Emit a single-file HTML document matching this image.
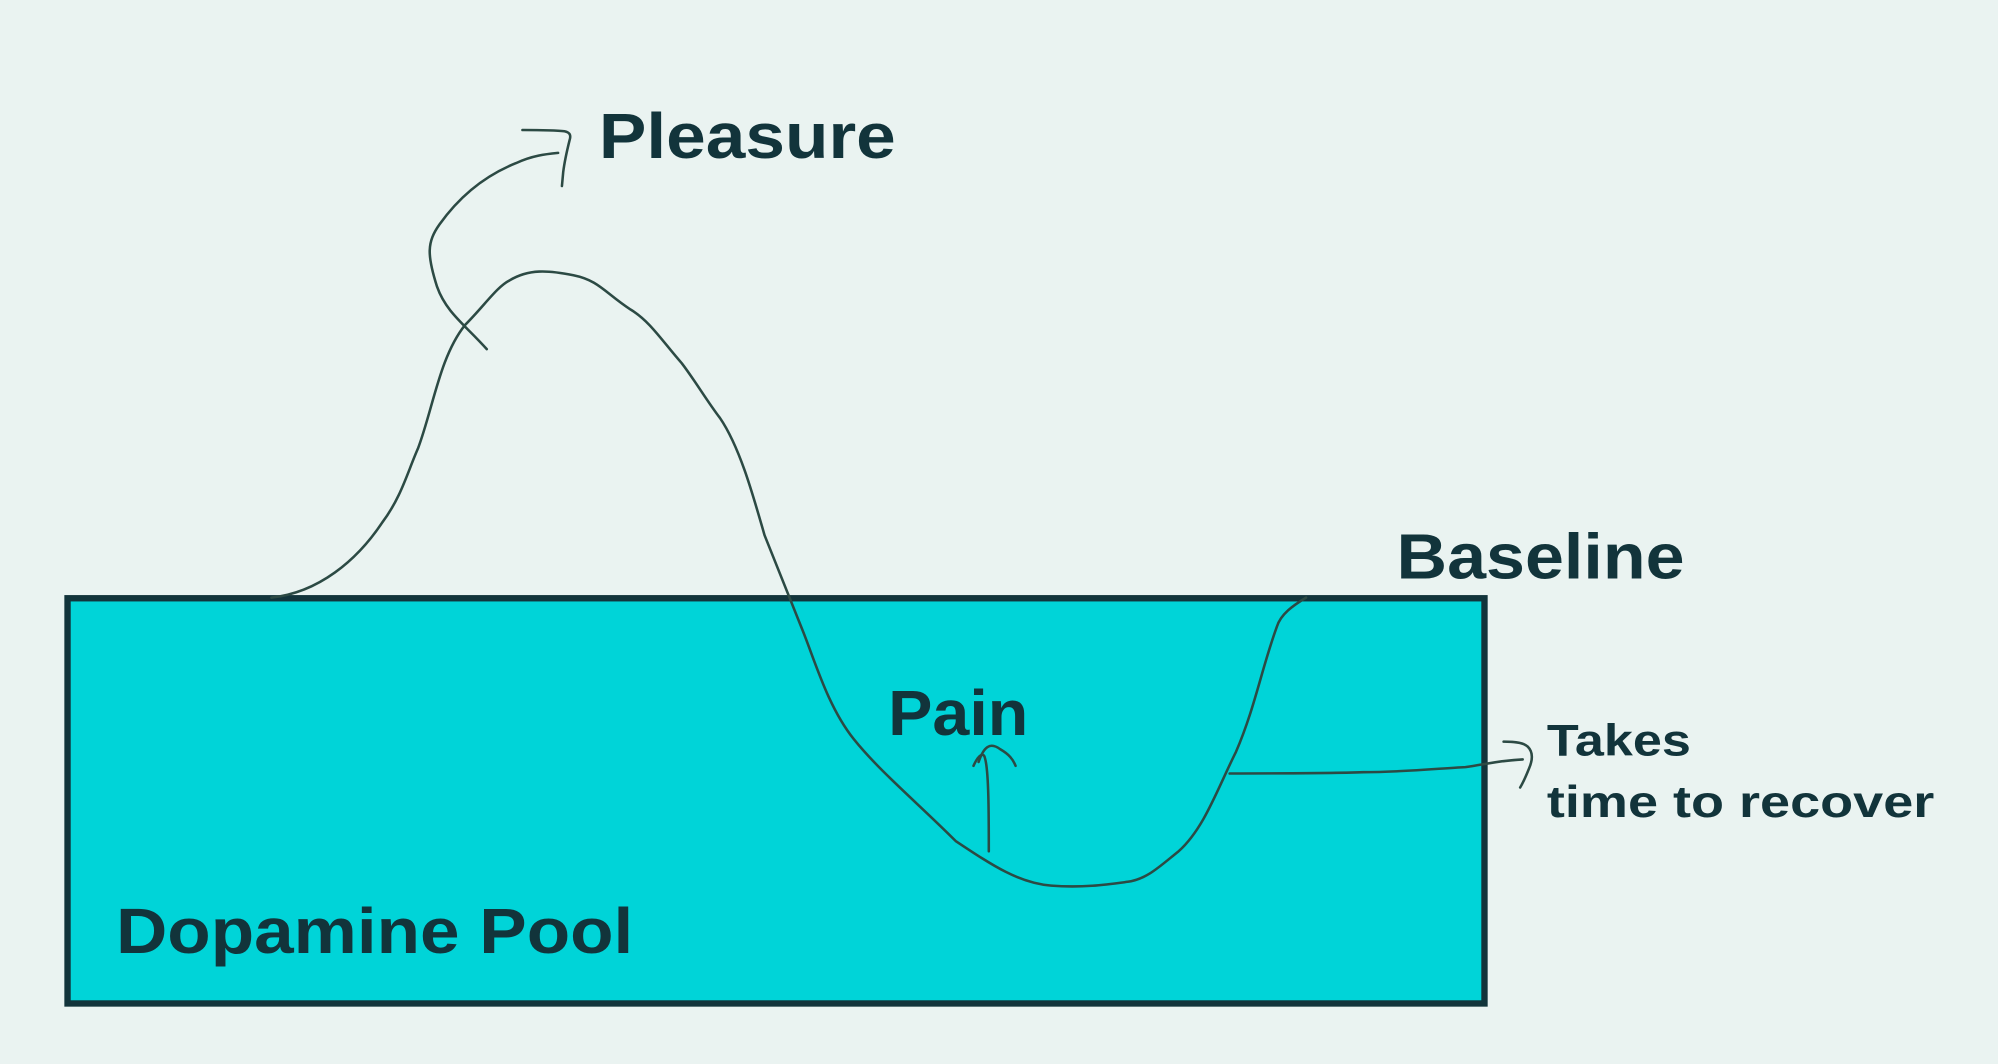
<!DOCTYPE html>
<html><head><meta charset="utf-8"><style>
html,body{margin:0;padding:0;background:#eaf3f1;}
svg{display:block}
text{font-family:"Liberation Sans",sans-serif;font-weight:bold;fill:#12343b;}
</style></head><body>
<svg width="1998" height="1064" viewBox="0 0 1568 835" preserveAspectRatio="none" xmlns="http://www.w3.org/2000/svg">
<rect width="1568" height="835" fill="#eaf3f1"/>
<rect x="53" y="469.5" width="1112" height="318" fill="#00d4d8" stroke="#12343b" stroke-width="5"/>
<g fill="none" stroke="#2c4a44" stroke-width="2" stroke-linecap="round" stroke-linejoin="round">
<path d="M213 469 C250 465 280 440 300 410 C315 390 320 370 328 352 C340 320 345 280 365 255 C380 240 390 225 400 220 C415 211 430 212 450 216 C470 220 475 230 495 243 C510 252 520 268 535 285 C545 298 555 315 565 328 C580 350 590 385 600 420 C610 445 620 470 630 495 C640 520 650 555 670 580 C690 605 720 630 750 660 C780 680 800 693 825 695 C850 697 870 694 885 692 C900 690 910 680 925 668 C945 650 955 620 970 590 C985 555 990 525 1002 492 C1005 482 1015 475 1025 469"/>
<path d="M382 274 C365 255 350 245 343 225 C335 200 335 190 345 176 C360 155 380 138 405 128 C418 122 428 121 438 120"/>
<path d="M410 102 C425 102 435 102 443 103 C448 104 448 107 447 110 C445 118 443 127 442 135 L441 146"/>
<path d="M776 668 C776 640 776 605 773 595 C772 590 768 592 764 601"/>
<path d="M768 598 C772 586 777 582 785 588 C792 592 795 596 797 601"/>
<path d="M965 607 C1000 607 1040 607 1070 606 C1100 606 1130 603 1150 602 C1165 600 1175 597 1195 596"/>
<path d="M1180 582 C1190 582 1196 583 1199 586 C1203 590 1203 596 1200 603 C1198 608 1196 613 1193 618"/>
</g>
<text x="470" y="124" font-size="50" textLength="233" lengthAdjust="spacingAndGlyphs">Pleasure</text>
<text x="1096" y="454" font-size="50" textLength="226" lengthAdjust="spacingAndGlyphs">Baseline</text>
<text x="697" y="577" font-size="50" textLength="110" lengthAdjust="spacingAndGlyphs">Pain</text>
<text x="91" y="748" font-size="50" textLength="406" lengthAdjust="spacingAndGlyphs">Dopamine Pool</text>
<text x="1214" y="593" font-size="35" textLength="113" lengthAdjust="spacingAndGlyphs">Takes</text>
<text x="1214" y="641" font-size="35" textLength="304" lengthAdjust="spacingAndGlyphs">time to recover</text>
</svg>
</body></html>
